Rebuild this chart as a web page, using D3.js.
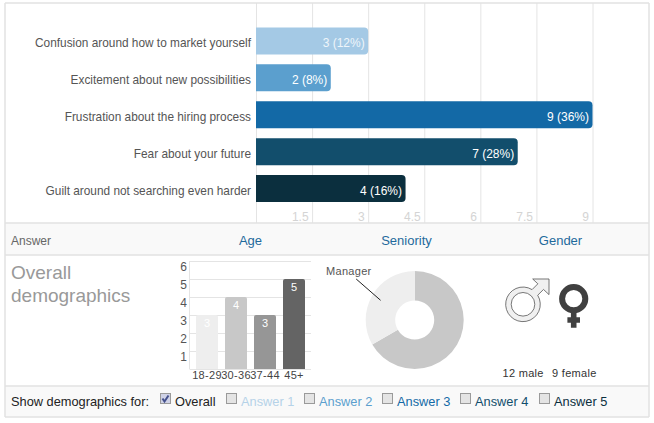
<!DOCTYPE html>
<html>
<head>
<meta charset="utf-8">
<script src="https://cdnjs.cloudflare.com/ajax/libs/d3/7.8.5/d3.min.js"></script>
<style>
  html, body { margin: 0; padding: 0; background: #fff; }
  svg { display: block; font-family: "Liberation Sans", Arial, sans-serif; }
  .domain { display: none; }
</style>
</head>
<body>
<svg id="chart" width="654" height="423"></svg>
<script>
// Survey answers with overall demographics panel

const answers = ["Confusion around how to market yourself", "Excitement about new possibilities",
    "Frustration about the hiring process", "Fear about your future", "Guilt around not searching even harder"];
const answerCounts = [3, 2, 9, 7, 4];
const answerPercents = [12, 8, 36, 28, 16];
const answerTicks = [0, 1.5, 3, 4.5, 6, 7.5, 9];

const ageGroups = ["18-29", "30-36", "37-44", "45+"];
const ageCounts = [3, 4, 3, 5];
const ageTicks = [1, 2, 3, 4, 5, 6];

const seniorityLevels = ["Other", "Manager"];
const seniorityCounts = [10, 5];

const genderCounts = [12, 9];
const genderLabels = ["male", "female"];

const headers = ["Age", "Seniority", "Gender"];
const filters = ["Overall", "Answer 1", "Answer 2", "Answer 3", "Answer 4", "Answer 5"];

const svg = d3.select("#chart");
const barColors = ["#a4c9e5", "#5b9fce", "#1369a6", "#124e6c", "#0b2f3e"];
const linkColor = "#1f6a9c";
const gridColor = "#e4e4e4";

// panel frame and header / footer strips
svg.append("rect").attr("x", 5).attr("y", 223).attr("width", 644).attr("height", 32).attr("fill", "#f9f9f9");
svg.append("rect").attr("x", 5).attr("y", 386).attr("width", 644).attr("height", 31).attr("fill", "#f9f9f9");

// main bars
const x = d3.scaleLinear().domain([0, 9]).range([256, 592.5]);
const y = d3.scaleBand().domain(answers).range([22.5, 207]).paddingInner(0.28).paddingOuter(0.14);

const xAxis = svg.append("g")
    .attr("transform", "translate(0, 223)")
    .call(d3.axisBottom(x).tickValues(answerTicks).tickSize(-220).tickFormat(d => d === 0 ? "" : d));
xAxis.selectAll("line").attr("stroke", gridColor);
xAxis.selectAll("text")
    .attr("y", -2).attr("dy", 0).attr("x", -4)
    .attr("text-anchor", "end")
    .attr("font-size", 12)
    .attr("font-family", "Liberation Sans")
    .attr("fill", "#d4d4d4");

const barHeight = 27;
const yCenter = d => y(d) + y.bandwidth() / 2;

answers.forEach((a, i) => {
    svg.append("path")
        .attr("d", rightRounded(x(0), yCenter(a) - barHeight / 2, x(answerCounts[i]) - x(0), barHeight, 4))
        .attr("fill", barColors[i]);
    svg.append("text")
        .attr("x", x(0) - 5)
        .attr("y", yCenter(a) + 6)
        .attr("text-anchor", "end")
        .attr("font-size", 11.85)
        .attr("fill", "#555")
        .text(a);
    svg.append("text")
        .attr("x", x(answerCounts[i]) - 3.5)
        .attr("y", yCenter(a) + 6)
        .attr("text-anchor", "end")
        .attr("font-size", 12)
        .attr("fill", i === 0 ? "#eef5fa" : "#fff")
        .text(`${answerCounts[i]} (${answerPercents[i]}%)`);
});

function rightRounded(px, py, w, h, r) {
    return `M${px},${py}H${px + w - r}Q${px + w},${py} ${px + w},${py + r}V${py + h - r}Q${px + w},${py + h} ${px + w - r},${py + h}H${px}Z`;
}

// header row
svg.append("text").attr("x", 11).attr("y", 245).attr("font-size", 12).attr("fill", "#666").text("Answer");
const headerX = d3.scaleOrdinal().domain(headers).range([250.5, 406.5, 560.5]);
headers.forEach(h => {
    svg.append("text")
        .attr("x", headerX(h)).attr("y", 245)
        .attr("text-anchor", "middle")
        .attr("font-size", 13)
        .attr("fill", linkColor)
        .text(h);
});

// demographics title
svg.append("text").attr("x", 11).attr("y", 279).attr("font-size", 19).attr("fill", "#999").text("Overall");
svg.append("text").attr("x", 11).attr("y", 302).attr("font-size", 19).attr("fill", "#999").text("demographics");

// age columns
const ageX = d3.scaleBand().domain(ageGroups).range([192.5, 308.5]).paddingInner(7 / 29).paddingOuter(3.5 / 29);
const ageY = d3.scaleLinear().domain([0, 6]).range([369, 261]);
const ageShades = ["#eeeeee", "#c8c8c8", "#969696", "#646464"];

const ageAxis = svg.append("g")
    .attr("transform", "translate(189.5, 0)")
    .call(d3.axisLeft(ageY).tickValues([0].concat(ageTicks)).tickSize(-121.5).tickFormat(d => d === 0 ? "" : d));
ageAxis.selectAll("line").attr("stroke", gridColor);
ageAxis.selectAll("text")
    .attr("x", -2.5).attr("y", 5).attr("dy", "0.35em")
    .attr("font-size", 12)
    .attr("font-family", "Liberation Sans")
    .attr("fill", "#555");
svg.append("line").attr("x1", 189.5).attr("x2", 189.5).attr("y1", 261).attr("y2", 369).attr("stroke", gridColor);

ageGroups.forEach((g, i) => {
    svg.append("path")
        .attr("d", topRounded(ageX(g), ageY(ageCounts[i]), ageX.bandwidth(), ageY(0) - ageY(ageCounts[i]), 2))
        .attr("fill", ageShades[i]);
    svg.append("text")
        .attr("x", ageX(g) + ageX.bandwidth() / 2)
        .attr("y", ageY(ageCounts[i]) + 12)
        .attr("text-anchor", "middle")
        .attr("font-size", 11)
        .attr("fill", "#fff")
        .text(ageCounts[i]);
    svg.append("text")
        .attr("x", ageX(g) + ageX.bandwidth() / 2)
        .attr("y", 378.5)
        .attr("text-anchor", "middle")
        .attr("font-size", 11)
        .attr("letter-spacing", 0.3)
        .attr("fill", "#444")
        .text(g);
});

function topRounded(px, py, w, h, r) {
    return `M${px},${py + h}V${py + r}Q${px},${py} ${px + r},${py}H${px + w - r}Q${px + w},${py} ${px + w},${py + r}V${py + h}Z`;
}

// seniority donut
const donut = svg.append("g").attr("transform", "translate(414.7, 320)");
const pie = d3.pie().sort(null);
const arc = d3.arc().innerRadius(19.5).outerRadius(49);
const donutShades = ["#c8c8c8", "#eeeeee"];
donut.selectAll("path")
    .data(pie(seniorityCounts))
    .join("path")
    .attr("d", arc)
    .attr("fill", (d, i) => donutShades[i]);

const managerArc = pie(seniorityCounts)[1];
const leaderStart = arc.centroid(managerArc).map(v => v * 1.15);
donut.append("line")
    .attr("x1", leaderStart[0]).attr("y1", leaderStart[1])
    .attr("x2", -58.5).attr("y2", -41)
    .attr("stroke", "#222");
svg.append("text")
    .attr("x", 326).attr("y", 275)
    .attr("font-size", 11)
    .attr("letter-spacing", 0.3)
    .attr("fill", "#555")
    .text(seniorityLevels[1]);

// gender icons, sized by hand like the original glyphs
const male = svg.append("g").attr("transform", "translate(523, 304.3)");
male.append("path")
    .attr("d", "M9.05,-14.7L14.85,-20.5L9.7,-25.3H26V-9.7L20.5,-14.85L14.7,-9.05A17.3,17.3 0 1 1 9.05,-14.7Z")
    .attr("fill", "#f0f0f0").attr("stroke", "#555").attr("stroke-width", 0.8);
male.append("circle").attr("r", 11.8).attr("fill", "#fff").attr("stroke", "#555").attr("stroke-width", 0.8);

const female = svg.append("g").attr("transform", "translate(573.7, 298.7)");
female.append("circle").attr("r", 11.6).attr("fill", "none").attr("stroke", "#404040").attr("stroke-width", 6);
female.append("path")
    .attr("d", "M-2.8,13H2.8V18.6H6.3V24H2.8V29H-2.8V24H-6.3V18.6H-2.8Z")
    .attr("fill", "#404040");

svg.append("text").attr("x", 502.5).attr("y", 377).attr("font-size", 11).attr("letter-spacing", 0.3).attr("fill", "#333")
    .text(`${genderCounts[0]} ${genderLabels[0]}`);
svg.append("text").attr("x", 552).attr("y", 377).attr("font-size", 11).attr("letter-spacing", 0.3).attr("fill", "#333")
    .text(`${genderCounts[1]} ${genderLabels[1]}`);

// footer filters
svg.append("text").attr("x", 11).attr("y", 406).attr("font-size", 12.8).attr("fill", "#222").text("Show demographics for:");
const filterX = d3.scaleOrdinal().domain(filters).range([160, 226, 304, 382, 460, 539]);
const filterColors = ["#222", "#b5d2e8", "#5b9fce", "#1369a6", "#124e6c", "#0b2f3e"];
filters.forEach((f, i) => {
    const fx = filterX(f);
    svg.append("rect")
        .attr("x", fx + 0.5).attr("y", 393.5).attr("width", 10).attr("height", 10)
        .attr("fill", i === 0 ? "#cfd2e6" : "#e4e4e4").attr("stroke", "#9a9a9a");
    if (i === 0) {
        svg.append("path")
            .attr("d", `M${fx + 2.5},398.5L${fx + 4.5},401.5L${fx + 8.5},395.5`)
            .attr("fill", "none").attr("stroke", "#44508c").attr("stroke-width", 2);
    }
    svg.append("text")
        .attr("x", fx + 15).attr("y", 406)
        .attr("font-size", 12.8)
        .attr("fill", filterColors[i])
        .text(f);
});

// frame lines on top
const frameLines = [[5, 649, 3, 3], [5, 649, 223, 223], [5, 649, 255, 255], [5, 649, 386, 386], [5, 649, 417, 417], [5, 5, 3, 417], [649, 649, 3, 417]];
frameLines.forEach(l => {
    svg.append("line")
        .attr("x1", l[0]).attr("x2", l[1]).attr("y1", l[2]).attr("y2", l[3])
        .attr("stroke", "#e2e2e2").attr("stroke-width", 1.5);
});
</script>
</body>
</html>
